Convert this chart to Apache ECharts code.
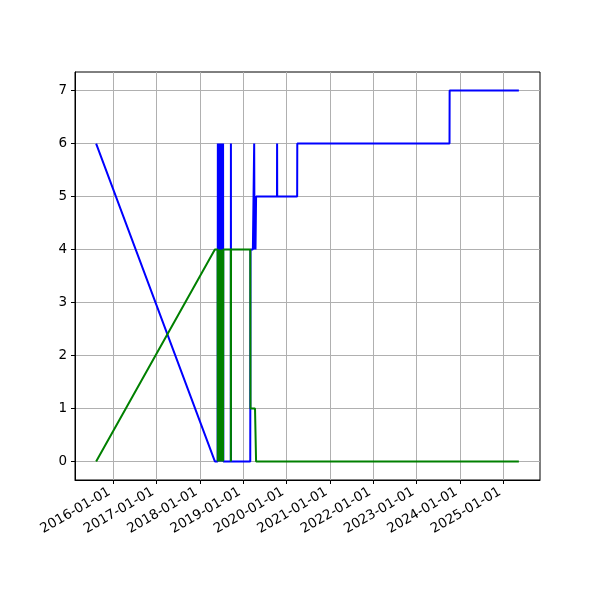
<!DOCTYPE html>
<html>
<head>
<meta charset="utf-8">
<script src="https://cdn.jsdelivr.net/npm/echarts@6/dist/echarts.min.js"></script>
<style>html,body{margin:0;padding:0;background:#fff}#c{width:600px;height:600px}</style>
</head>
<body>
<div id="c"></div>
<script>
const dates = [
  '2015-08-12', '2018-05-08', '2018-05-31',
  '2018-06-02', '2018-06-04', '2018-06-06', '2018-06-08', '2018-06-10', '2018-06-12',
  '2018-06-14', '2018-06-16', '2018-06-18', '2018-06-20', '2018-06-22', '2018-06-24',
  '2018-06-26', '2018-06-28', '2018-06-30', '2018-07-02', '2018-07-04', '2018-07-06',
  '2018-07-08', '2018-07-10', '2018-07-12', '2018-07-14', '2018-07-16', '2018-07-18',
  '2018-09-19', '2018-09-20', '2018-09-21',
  '2019-03-02', '2019-03-04', '2019-03-24', '2019-04-04', '2019-04-07', '2019-04-11',
  '2019-04-15', '2019-04-20',
  '2019-10-13', '2019-10-14', '2019-10-15',
  '2020-03-31', '2020-04-01',
  '2023-10-05', '2023-10-06',
  '2025-05-11'
];
const blueValues = [
  6, 0, 0,
  6, 0, 6, 0, 6, 0,
  6, 0, 6, 0, 6, 0,
  6, 0, 6, 0, 6, 0,
  6, 0, 6, 0, 6, 0,
  0, 6, 0,
  0, 4, 4, 6, 4, 5,
  4, 5,
  5, 6, 5,
  5, 6,
  6, 7,
  7
];
const greenValues = [
  0, 4, 4,
  0, 4, 0, 4, 0, 4,
  0, 4, 0, 4, 0, 4,
  0, 4, 0, 4, 0, 4,
  0, 4, 0, 4, 0, 4,
  4, 0, 4,
  4, 1, 1, 1, 1, 1,
  1, 0,
  0, 0, 0,
  0, 0,
  0, 0,
  0
];
const xTickLabels = ['2016-01-01','2017-01-01','2018-01-01','2019-01-01','2020-01-01',
  '2021-01-01','2022-01-01','2023-01-01','2024-01-01','2025-01-01'];
const yTicks = [0, 1, 2, 3, 4, 5, 6, 7];

const chart = echarts.init(document.getElementById('c'), null, {renderer: 'canvas'});
const toMs = d => +echarts.number.parseDate(d);
const ts = dates.map(toMs);
const xTickValues = xTickLabels.map(toMs);
const tMin = Math.min(...ts), tMax = Math.max(...ts);
const pad = (tMax - tMin) * 0.05;
const allY = blueValues.concat(greenValues);
const yMin = Math.min(...allY), yMax = Math.max(...allY);
const yPad = (yMax - yMin) * 0.05;
const font = 'DejaVu Sans';

chart.setOption({
  animation: false,
  backgroundColor: '#ffffff',
  grid: {left: 75, right: 60, top: 72, bottom: 120, containLabel: false,
         show: true, borderColor: '#000', borderWidth: 1, backgroundColor: 'transparent'},
  xAxis: {
    type: 'value',
    min: tMin - pad, max: tMax + pad,
    axisLine: {show: true, onZero: false, lineStyle: {color: '#000', width: 1}},
    axisTick: {show: true, inside: false, length: 4, lineStyle: {color: '#000', width: 1},
               customValues: xTickValues},
    axisLabel: {customValues: xTickValues, rotate: 30, margin: 9, padding: [0, 4, 0, 0],
                color: '#000', fontFamily: font, fontSize: 13.5,
                formatter: v => echarts.time.format(v, '{yyyy}-{MM}-{dd}', false)},
    splitLine: {show: true, lineStyle: {color: '#b0b0b0', width: 1}}
  },
  yAxis: {
    type: 'value',
    min: yMin - yPad, max: yMax + yPad,
    axisLine: {show: true, onZero: false, lineStyle: {color: '#000', width: 1}},
    axisTick: {show: true, inside: false, length: 4, lineStyle: {color: '#000', width: 1},
               customValues: yTicks},
    axisLabel: {customValues: yTicks, margin: 8, color: '#000', fontFamily: font, fontSize: 13.5},
    splitLine: {show: true, lineStyle: {color: '#b0b0b0', width: 1}}
  },
  series: [
    {type: 'line', data: ts.map((t, i) => [t, blueValues[i]]), showSymbol: false, symbol: 'none',
     lineStyle: {color: '#0000ff', width: 2}, itemStyle: {color: '#0000ff'}},
    {type: 'line', data: ts.map((t, i) => [t, greenValues[i]]), showSymbol: false, symbol: 'none',
     lineStyle: {color: '#008000', width: 2}, itemStyle: {color: '#008000'}}
  ]
});
</script>
</body>
</html>
